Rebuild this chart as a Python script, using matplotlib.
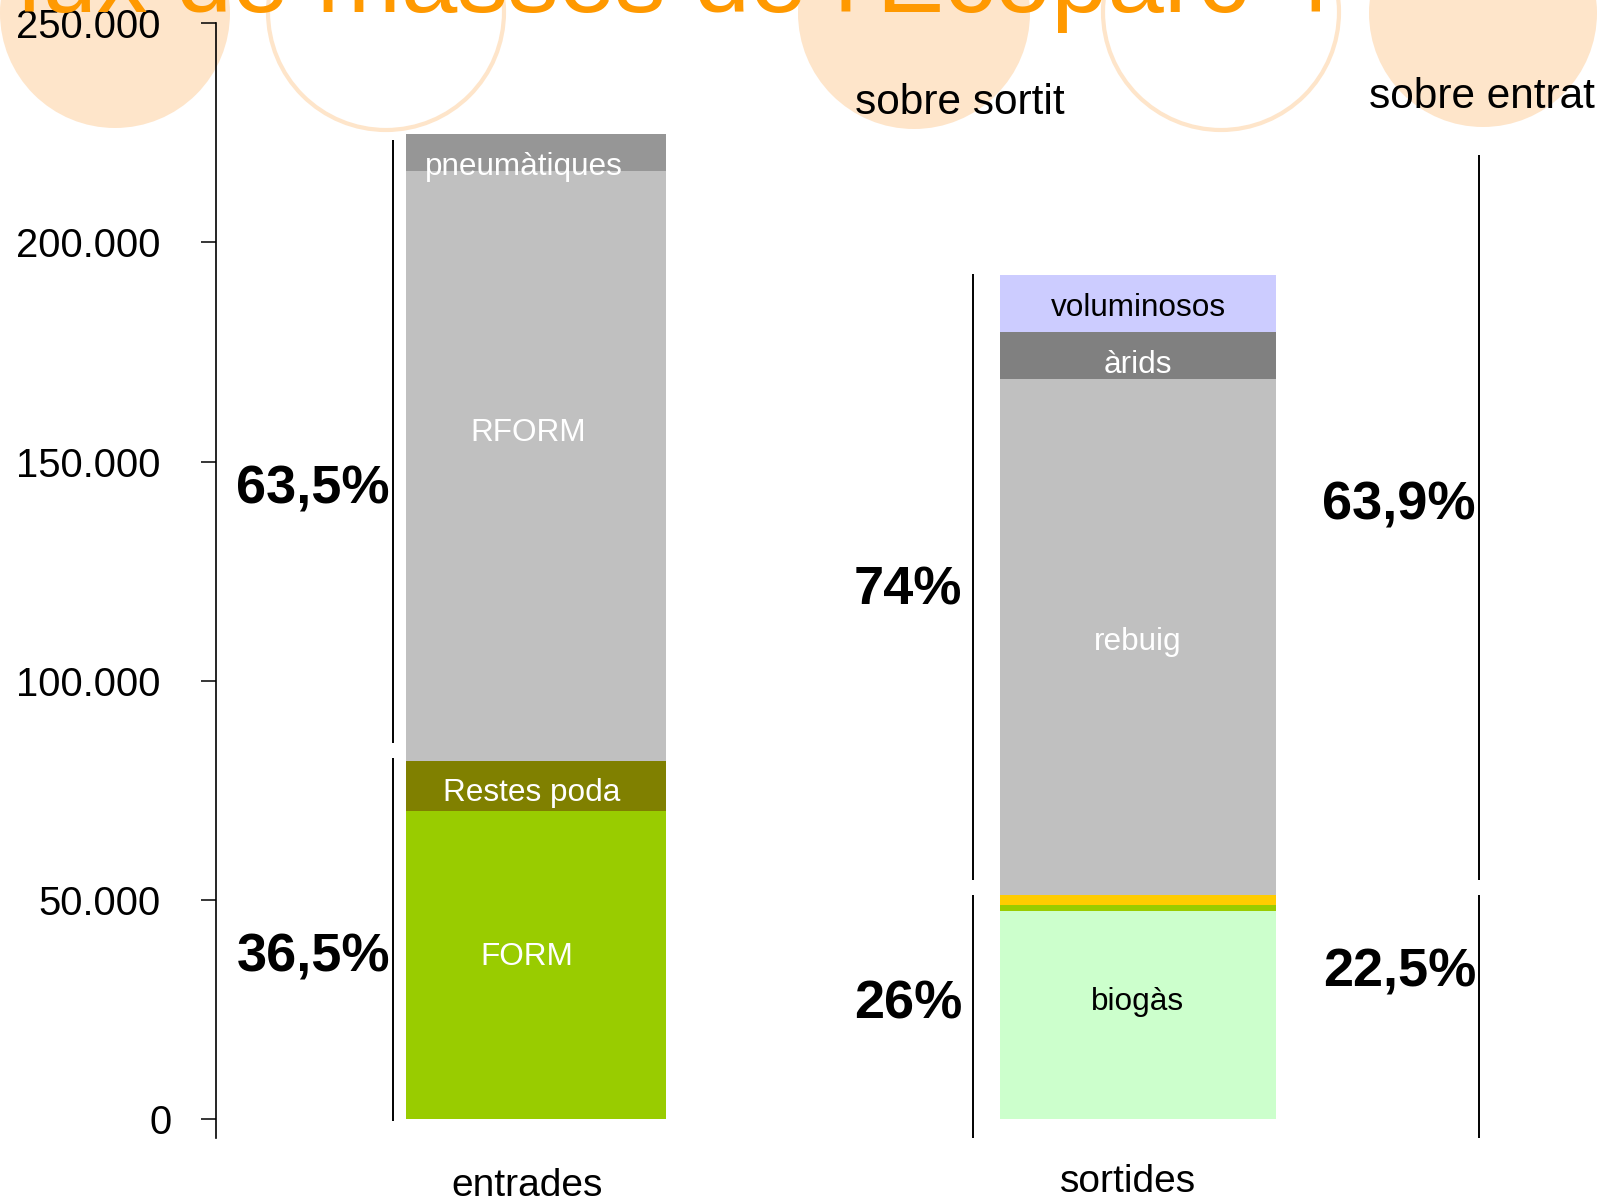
import matplotlib
matplotlib.use('Agg')
import matplotlib.pyplot as plt
from matplotlib.patches import Ellipse

# ---------------- data ----------------
categories = ['entrades', 'sortides']
cat_label_x = [-0.015, 0.983]
cat_label_y = [-15200, -14200]

entrades_labels = ['FORM', 'Restes poda', 'RFORM', 'pneumàtiques']
entrades_values = [70400, 11400, 134500, 8400]
entrades_colors = ['#99CC00', '#808000', '#C0C0C0', '#969696']
entrades_text_colors = ['white', 'white', 'white', 'white']
entrades_label_x = [-0.0161, -0.0068, -0.0128, -0.0204]
entrades_label_y = [37000, 74300, 156500, 217200]

sortides_labels = ['biogàs', '', '', 'rebuig', 'àrids', 'voluminosos']
sortides_values = [47500, 1400, 2300, 117700, 10700, 12900]
sortides_colors = ['#CCFFCC', '#99CC00', '#FFCC00', '#C0C0C0', '#808080', '#CCCCFF']
sortides_text_colors = ['black', 'black', 'black', 'white', 'white', 'black']
sortides_label_y = [26700, 0, 0, 108900, 171900, 185000]

bar_widths = [0.432, 0.4585]

yticks = [0, 50000, 100000, 150000, 200000, 250000]
ytick_labels = ['0', '50.000', '100.000', '150.000', '200.000', '250.000']

# percentage brackets: (x, y_from, y_to)
brackets = [(-0.238, 85800, 223300), (-0.238, -500, 82400),
            (0.7266, 54500, 192700), (0.7266, -4200, 51200),
            (1.5664, 54500, 219800), (1.5664, -4200, 51200)]
pct_texts = ['63,5%', '36,5%', '74%', '26%', '63,9%', '22,5%']
pct_x = [-0.2426, -0.2426, 0.7084, 0.7084, 1.5614, 1.5614]
pct_y = [140500, 33700, 117500, 23000, 136700, 30200]

sobre_texts = ['sobre sortit', 'sobre entrat']
sobre_x = [0.704, 1.571]
sobre_y = [231700, 233100]

title = "Flux de masses de l'Ecoparc 4"

# ---------------- figure ----------------
W, H = 1605, 1202
plt.rcParams['font.family'] = ['Liberation Sans', 'DejaVu Sans']
fig = plt.figure(figsize=(W / 100, H / 100), dpi=100)

# decorative circles (pixel centre x, centre y, radius, filled)
circles = [(115, 13, 115, True), (386, 12, 118, False), (914, 13, 116, True),
           (1221, 12, 118, False), (1483, 13, 114, True)]
for cx, cy, r, filled in circles:
    e = Ellipse((cx / W, 1 - cy / H), 2 * r / W, 2 * r / H,
                transform=fig.transFigure, zorder=-5,
                facecolor='#FEE5CA' if filled else 'none',
                edgecolor='#FEE5CA', linewidth=0 if filled else 3.0)
    fig.add_artist(e)

fig.text(-44 / W, 1 - 12 / H, title, fontsize=73, color='#FF9900',
         ha='left', va='baseline', zorder=5)

ax = fig.add_axes([216 / W, (H - 1137.7) / H, (W - 216) / W, 1114.7 / H])
ax.set_facecolor('none')
ax.patch.set_alpha(0)
ax.set_xlim(-0.5316, 1.7757)
ax.set_ylim(-4200, 250000)

# bars
bottom = 0
for val, col, lab, tc, lx, ly in zip(entrades_values, entrades_colors, entrades_labels,
                                     entrades_text_colors, entrades_label_x,
                                     entrades_label_y):
    ax.bar(0, val, bottom=bottom, width=bar_widths[0], color=col, linewidth=0)
    bottom += val
    ax.text(lx, ly, lab, color=tc, fontsize=22.7, ha='center', va='center')

bottom = 0
for val, col, lab, tc, ly in zip(sortides_values, sortides_colors, sortides_labels,
                                 sortides_text_colors, sortides_label_y):
    ax.bar(1, val, bottom=bottom, width=bar_widths[1], color=col, linewidth=0)
    bottom += val
    if lab:
        ax.text(1, ly, lab, color=tc, fontsize=22.7, ha='center', va='center')

# brackets
for x, y0, y1 in brackets:
    ax.plot([x, x], [y0, y1], color='black', linewidth=1.4, solid_capstyle='butt',
            clip_on=False)

for t, x, y in zip(pct_texts, pct_x, pct_y):
    ax.text(x, y, t, fontsize=39, fontweight='bold', ha='right', va='baseline')

for t, x, y in zip(sobre_texts, sobre_x, sobre_y):
    ax.text(x, y, t, fontsize=30.5, ha='center', va='center')

for t, x, y in zip(categories, cat_label_x, cat_label_y):
    ax.text(x, y, t, fontsize=28, ha='center', va='center', clip_on=False)

# axes styling
for s in ['top', 'right', 'bottom']:
    ax.spines[s].set_visible(False)
ax.spines['left'].set_linewidth(1.2)
ax.set_xticks([])
ax.set_yticks(yticks)
ax.set_yticklabels(ytick_labels)
ax.tick_params(axis='y', labelsize=28.8, length=10.8, width=1.1, pad=29,
               direction='out')
ax.get_yticklabels()[0].set_horizontalalignment('center')

fig.savefig('out.png', dpi=100)
